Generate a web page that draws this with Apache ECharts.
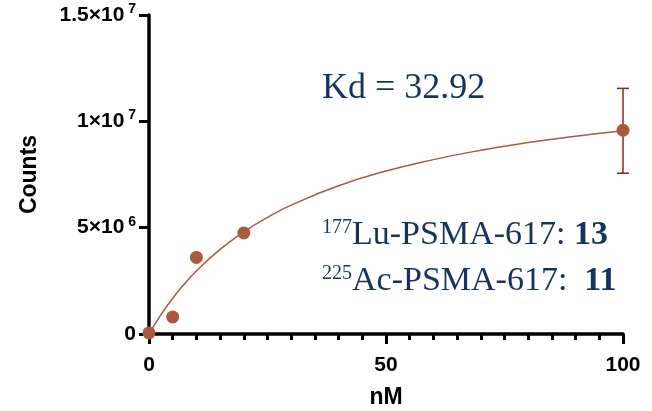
<!DOCTYPE html>
<html><head><meta charset="utf-8">
<script src="https://cdn.jsdelivr.net/npm/echarts@6/dist/echarts.min.js"></script>
<style>html,body{margin:0;padding:0;background:#fff}#c{width:652px;height:411px}</style>
</head><body><div id="c"></div>
<script>
// measured points
const pointX = [0, 5, 10, 20, 100];
const pointY = [0.05e6, 0.8e6, 3.6e6, 4.75e6, 9.58e6];
// error bar at x=100
const errX = [100];
const errLow = [7.56e6];
const errHigh = [11.55e6];
// fitted curve, values
const curveX = [0, 2.5, 5, 7.5, 10, 15, 20, 25, 30, 40, 50, 60, 70, 80, 90, 100];
const curveY = [0, 0.9e6, 1.68e6, 2.36e6, 2.96e6, 3.98e6, 4.8e6, 5.48e6, 6.06e6, 6.97e6, 7.66e6, 8.2e6, 8.64e6, 9.0e6, 9.3e6, 9.56e6];
// y tick labels
const yTickBase = {0: '0', 5000000: '5×10', 10000000: '1×10', 15000000: '1.5×10'};
const yTickExp = {0: '', 5000000: '6', 10000000: '7', 15000000: '7'};

const brown = '#a85a3e';
const navy = '#15335e';
const chart = echarts.init(document.getElementById('c'));
chart.setOption({
  animation: false,
  grid: {left: 149, right: 29, top: 15, bottom: 77, outerBoundsMode: 'none', containLabel: false},
  xAxis: {
    type: 'value', min: 0, max: 100, interval: 50,
    name: 'nM', nameLocation: 'middle', nameGap: 52,
    nameTextStyle: {fontFamily: 'Liberation Sans', fontWeight: 'bold', fontSize: 23, color: '#000'},
    axisLine: {show: true, onZero: false, lineStyle: {color: '#000', width: 3.5}},
    axisTick: {show: true, inside: false, length: 10, lineStyle: {color: '#000', width: 3}},
    minorTick: {show: true, splitNumber: 10, length: 6, lineStyle: {color: '#000', width: 3}},
    splitLine: {show: false},
    minorSplitLine: {show: false},
    axisLabel: {fontFamily: 'Liberation Sans', fontWeight: 'bold', fontSize: 21, color: '#000', margin: 21}
  },
  yAxis: {
    type: 'value', min: 0, max: 15000000, interval: 5000000,
    name: 'Counts', nameLocation: 'middle', nameGap: 108, nameRotate: 90,
    nameTextStyle: {fontFamily: 'Liberation Sans', fontWeight: 'bold', fontSize: 23, color: '#000'},
    axisLine: {show: true, onZero: false, lineStyle: {color: '#000', width: 3.5}},
    axisTick: {show: true, inside: false, length: 10, lineStyle: {color: '#000', width: 3}},
    splitLine: {show: false},
    axisLabel: {
      margin: 13,
      formatter: v => yTickExp[v] ? '{a|' + yTickBase[v] + '}{s| ' + yTickExp[v] + '}' : '{a|' + yTickBase[v] + '}',
      rich: {
        a: {fontFamily: 'Liberation Sans', fontWeight: 'bold', fontSize: 21, color: '#000'},
        s: {fontFamily: 'Liberation Sans', fontWeight: 'bold', fontSize: 14, color: '#000', padding: [0, 0, 12, 0]}
      }
    }
  },
  series: [
    {
      type: 'line', data: curveX.map((x, i) => [x, curveY[i]]), smooth: true, showSymbol: false,
      lineStyle: {color: brown, width: 1.5}, z: 2
    },
    {
      type: 'custom', z: 3,
      data: errX.map((x, i) => [x, errLow[i], errHigh[i]]),
      renderItem: (params, api) => {
        const lo = api.coord([api.value(0), api.value(1)]);
        const hi = api.coord([api.value(0), api.value(2)]);
        const w = 6;
        const st = {stroke: '#8b2a12', lineWidth: 1.5};
        return {type: 'group', children: [
          {type: 'line', shape: {x1: lo[0], y1: lo[1], x2: hi[0], y2: hi[1]}, style: st},
          {type: 'line', shape: {x1: lo[0] - w, y1: lo[1], x2: lo[0] + w, y2: lo[1]}, style: st},
          {type: 'line', shape: {x1: hi[0] - w, y1: hi[1], x2: hi[0] + w, y2: hi[1]}, style: st}
        ]};
      }
    },
    {
      type: 'scatter', data: pointX.map((x, i) => [x, pointY[i]]), symbolSize: 13,
      itemStyle: {color: brown, opacity: 1}, z: 4, clip: false
    }
  ],
  graphic: [
    {type: 'text', left: 322, top: 71, style: {text: 'Kd = 32.92', fontFamily: 'Liberation Serif', fontSize: 36, fill: navy}},
    {type: 'text', left: 322, top: 218, style: {
      text: '{s|177}{t|Lu-PSMA-617: }{b|13}',
      rich: {
        s: {fontFamily: 'Liberation Serif', fontSize: 20, fill: navy, padding: [0, 0, 14, 0]},
        t: {fontFamily: 'Liberation Serif', fontSize: 34, fill: navy},
        b: {fontFamily: 'Liberation Serif', fontSize: 34, fontWeight: 'bold', fill: navy}
      }}},
    {type: 'text', left: 322, top: 264, style: {
      text: '{s|225}{t|Ac-PSMA-617:  }{b|11}',
      rich: {
        s: {fontFamily: 'Liberation Serif', fontSize: 20, fill: navy, padding: [0, 0, 14, 0]},
        t: {fontFamily: 'Liberation Serif', fontSize: 34, fill: navy},
        b: {fontFamily: 'Liberation Serif', fontSize: 34, fontWeight: 'bold', fill: navy}
      }}}
  ]
});
</script></body></html>
